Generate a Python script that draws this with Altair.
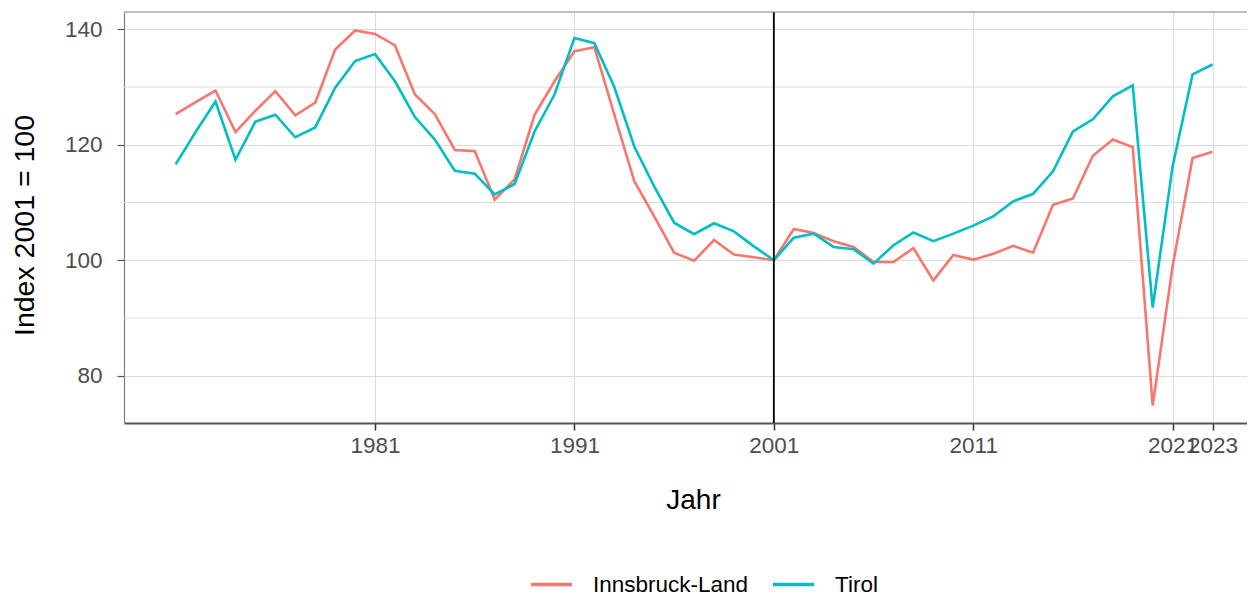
import altair as alt
import pandas as pd

# ---- data ----
years = list(range(1971, 2024))
innsbruck_land = [
    125.3, 127.4, 129.4, 122.2, 125.9, 129.3, 125.1, 127.3, 136.5, 139.8,
    139.2, 137.2, 128.7, 125.3, 119.1, 118.9, 110.5, 114.0, 125.2, 131.0,
    136.2, 136.9, 125.2, 113.7, 107.6, 101.3, 99.9, 103.5, 101.0, 100.5,
    100.0, 105.4, 104.7, 103.3, 102.3, 99.7, 99.7, 102.1, 96.5, 100.9,
    100.1, 101.1, 102.5, 101.3, 109.6, 110.7, 118.1, 120.9, 119.6, 74.8,
    99.0, 117.7, 118.8,
]
tirol = [
    116.6, 122.2, 127.5, 117.4, 124.0, 125.2, 121.3, 123.0, 129.9, 134.5,
    135.7, 131.0, 124.8, 120.9, 115.5, 115.0, 111.4, 113.2, 122.3, 128.7,
    138.5, 137.6, 130.0, 119.7, 112.8, 106.5, 104.5, 106.4, 105.0, 102.4,
    100.0, 103.9, 104.6, 102.3, 101.9, 99.4, 102.6, 104.8, 103.3, 104.6,
    106.0, 107.6, 110.2, 111.5, 115.4, 122.3, 124.4, 128.4, 130.3, 91.8,
    116.3, 132.2, 133.9,
]
series_names = ["Innsbruck-Land", "Tirol"]
series_colors = ["#F8766D", "#00BFC4"]
x_ticks = [1981, 1991, 2001, 2011, 2021, 2023]
y_ticks = [80, 100, 120, 140]
y_minor = [90, 110, 130]
reference_year = [2001]

df = pd.DataFrame(
    {
        "Jahr": years * 2,
        "Wert": innsbruck_land + tirol,
        "Region": [series_names[0]] * len(years) + [series_names[1]] * len(years),
    }
)

W, H = 1123, 411
FONT = "Liberation Sans"
GRID = "#DCDCDC"

x_scale = alt.Scale(domain=[1968.41, 2024.73], nice=False, zero=False)
y_scale = alt.Scale(domain=[71.8, 143.0], nice=False, zero=False)

base = alt.Chart(df)

lines = base.mark_line(strokeWidth=2.6, clip=True).encode(
    x=alt.X(
        "Jahr:Q",
        scale=x_scale,
        axis=alt.Axis(
            values=x_ticks,
            format="d",
            labelOverlap=False,
            labelFlush=False,
            title="Jahr",
            titleFontSize=28,
            titleFontWeight="normal",
            titleColor="black",
            titleX=569,
            titleY=85,
            titleAlign="center",
            titleBaseline="alphabetic",
            labelFontSize=22.5,
            labelColor="#4D4D4D",
            labelPadding=4,
            tickSize=7,
            tickColor="#333333",
            tickWidth=1.5,
            domainColor="#555555",
            domainWidth=2,
            gridColor=GRID,
            gridWidth=1,
        ),
    ),
    y=alt.Y(
        "Wert:Q",
        scale=y_scale,
        axis=alt.Axis(
            values=y_ticks,
            title="Index 2001 = 100",
            titleFontSize=28.5,
            titleFontWeight="normal",
            titleColor="black",
            titleX=-91,
            titleY=213,
            titleBaseline="alphabetic",
            labelFontSize=22.5,
            labelColor="#4D4D4D",
            labelPadding=15,
            tickSize=7,
            tickColor="#555555",
            tickWidth=1.2,
            domainColor="#808080",
            domainWidth=1.2,
            gridColor=GRID,
            gridWidth=1,
        ),
    ),
    color=alt.Color(
        "Region:N",
        scale=alt.Scale(domain=series_names, range=series_colors),
        legend=alt.Legend(
            title=None,
            orient="none",
            direction="horizontal",
            legendX=405,
            legendY=550,
            symbolType="stroke",
            symbolSize=1681,
            symbolStrokeWidth=3.5,
            labelFontSize=22.5,
            labelColor="black",
            labelOffset=19,
            columnPadding=17,
        ),
    ),
)

minor_grid = (
    alt.Chart(pd.DataFrame({"y": y_minor}))
    .mark_rule(color=GRID, strokeWidth=1)
    .encode(y=alt.Y("y:Q", scale=y_scale))
)

top_border = (
    alt.Chart(pd.DataFrame({"a": [0]}))
    .mark_rule(color="#808080", strokeWidth=1.2)
    .encode(x=alt.value(0), x2=alt.value(W), y=alt.value(0))
)

vline = (
    alt.Chart(pd.DataFrame({"Jahr": reference_year}))
    .mark_rule(color="black", strokeWidth=1.8)
    .encode(x=alt.X("Jahr:Q", scale=x_scale))
)

chart = (
    alt.layer(minor_grid, lines, vline, top_border)
    .properties(
        width=W,
        height=H,
        autosize=alt.AutoSizeParams(type="none"),
        padding={"left": 116, "top": 4, "right": 0, "bottom": 174},
        background="white",
    )
    .configure(font=FONT)
    .configure_view(strokeOpacity=0)
)

chart.save("out.html", embed_options={"renderer": "svg", "actions": False})
